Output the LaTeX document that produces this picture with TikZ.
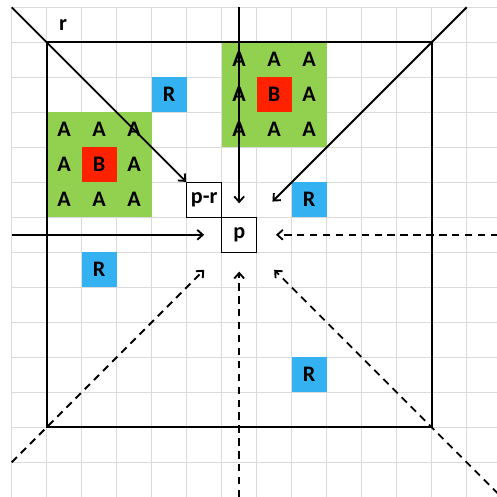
\documentclass[tikz,border=0pt]{standalone}
\usepackage{fontspec}
\setmainfont{Carlito}
\usetikzlibrary{arrows.meta}
\definecolor{gA}{HTML}{92D050}
\definecolor{rB}{HTML}{FF2200}
\definecolor{bR}{HTML}{33B1F0}
\definecolor{gridc}{HTML}{DADADA}
\begin{document}
\begin{tikzpicture}[x=1cm,y=-1cm,
  txt/.style={font=\fontsize{18}{20}\selectfont\bfseries},
  cellbox/.style={txt,minimum size=1cm,inner sep=0pt},
  block/.style={minimum size=3cm,inner sep=0pt,fill=gA},
  smallbox/.style={cellbox,draw=black,line width=0.7pt,fill=white},
  frameline/.style={line width=1.8pt,black},
  solidarrow/.style={line width=1.5pt,-{Straight Barb[length=4.5pt,width=8pt]}},
  dasharrow/.style={solidarrow,dash pattern=on 6pt off 4.5pt}]
\useasboundingbox (-0.334,-0.209) rectangle (13.866,13.991);
% grid
\foreach \i in {0,...,13}{
  \draw[gridc,line width=0.8pt] (\i,0) -- (\i,13.991);
  \draw[gridc,line width=0.8pt] (0,\i) -- (13.866,\i);
}
% green blocks
\node[block] (gL) at (2.5,4.5) {};
\node[block] (gR) at (7.5,2.5) {};
% A cells
\foreach \dx/\dy [count=\k] in {-1/-1,0/-1,1/-1,-1/0,1/0,-1/1,0/1,1/1}{
  \node[cellbox] (aL\k) at (2.5+\dx,4.5+\dy) {A};
  \node[cellbox] (aR\k) at (7.5+\dx,2.5+\dy) {A};
}
% B cells
\node[cellbox,fill=rB] (bL) at (2.5,4.5) {B};
\node[cellbox,fill=rB] (bR) at (7.5,2.5) {B};
% R cells
\node[cellbox,fill=bR] (r1) at (4.5,2.5) {R};
\node[cellbox,fill=bR] (r2) at (8.5,5.5) {R};
\node[cellbox,fill=bR] (r3) at (2.5,7.5) {R};
\node[cellbox,fill=bR] (r4) at (8.5,10.5) {R};
% frame
\draw[frameline] (1,1) rectangle (12,12);
% label r
\node[txt] (rlab) at (1.47,0.52) {r};
% p-r and p
\node[smallbox] (pr) at (5.5,5.5) {p-r};
\node[smallbox] (p) at (6.5,6.5) {p};
% coordinates
\coordinate (s1) at (0,0);
\coordinate (s2) at (6.5,0);
\coordinate (t2) at (6.5,5.6);
\coordinate (s3) at (13,0);
\coordinate (t3) at (7.45,5.55);
\coordinate (s4) at (0,6.5);
\coordinate (t4) at (5.5,6.5);
\coordinate (s5) at (13.9,6.5);
\coordinate (t5) at (7.55,6.5);
\coordinate (s6) at (0,13);
\coordinate (t6) at (5.5,7.5);
\coordinate (s7) at (6.5,14.0);
\coordinate (t7) at (6.5,7.55);
\coordinate (s8) at (13.9,13.9);
\coordinate (t8) at (7.5,7.5);
% arrows
\draw[solidarrow] (s1) -- (pr.north west);
\draw[solidarrow] (s2) -- (t2);
\draw[solidarrow] (s3) -- (t3);
\draw[solidarrow] (s4) -- (t4);
\draw[dasharrow] (s5) -- (t5);
\draw[dasharrow] (s6) -- (t6);
\draw[dasharrow] (s7) -- (t7);
\draw[dasharrow] (s8) -- (t8);
\end{tikzpicture}
\end{document}
